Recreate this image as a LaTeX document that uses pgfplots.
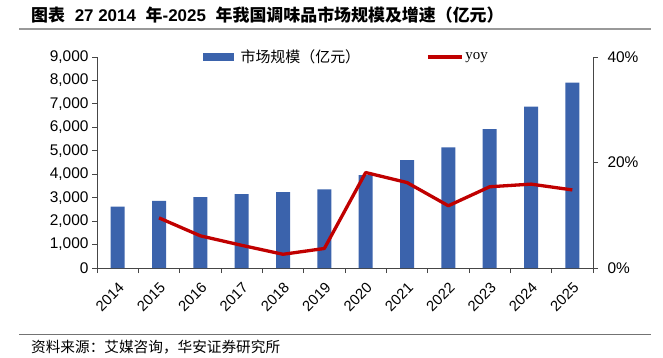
\documentclass[border=0pt]{standalone}
\usepackage{fontspec}
\usepackage{pgfplots}
\pgfplotsset{compat=1.18}
\setmainfont{Liberation Sans}
\newfontfamily\cjk{Noto Sans CJK SC}
\newfontfamily\serif{Liberation Serif}
\definecolor{barblue}{RGB}{59,99,172}
\definecolor{linered}{RGB}{192,0,0}
\definecolor{axgray}{RGB}{70,70,70}

\pgfplotstableread{
x year size
0 2014 2615
1 2015 2858
2 2016 3028
3 2017 3156
4 2018 3241
5 2019 3356
6 2020 3966
7 2021 4606
8 2022 5147
9 2023 5928
10 2024 6880
11 2025 7903
}\sizetable

\pgfplotstableread{
x yoy
1 9.5
2 6.1
3 4.3
4 2.6
5 3.7
6 18.1
7 16.2
8 11.8
9 15.4
10 15.9
11 14.8
}\yoytable

\begin{document}
\begin{tikzpicture}[x=1bp,y=1bp]
\path[use as bounding box] (0,0) rectangle (663,357);
\node[anchor=west, inner sep=0] at (31,342) {\bfseries\fontsize{17}{18}\selectfont{\cjk\bfseries 图表}\hspace{5bp} 27 2014\hspace{5bp} {\cjk\bfseries 年}-2025\hspace{5bp} {\cjk\bfseries 年我国调味品市场规模及增速（亿元）}};
\draw[color=black!40, line width=1.6bp] (19,328) -- (651,328);
\draw[color=black!55, line width=1bp] (19,23) -- (651,23);
\node[anchor=west, inner sep=0] at (31,10) {\cjk\fontsize{14.7}{17}\selectfont 资料来源：艾媒咨询，华安证券研究所};

\begin{axis}[
  at={(97bp,89bp)}, anchor=south west, scale only axis,
  width=496bp, height=211bp,
  xmin=-0.5, xmax=11.5, ymin=0, ymax=9000,
  axis x line*=bottom, axis y line*=left,
  axis line style={axgray, line width=0.8bp},
  every tick/.style={axgray, line width=0.8bp},
  tick align=outside,
  major tick length=5bp, minor tick length=5bp,
  xtick={0,...,11},
  xticklabels={2014,2015,2016,2017,2018,2019,2020,2021,2022,2023,2024,2025},
  major x tick style={draw=none},
  minor xtick={-0.5,0.5,...,11.5},
  xticklabel shift=7bp,
  xticklabel style={rotate=45, anchor=north east, inner sep=1bp, font=\fontsize{14.8}{16}\selectfont},
  ytick={0,1000,...,9000},
  /pgf/number format/assume math mode=true,
  /pgf/number format/1000 sep={,},
  yticklabel style={font=\fontsize{15.5}{17}\selectfont},
  ybar, bar width=14bp,
]
\addplot[fill=barblue, draw=none] table[x=x, y=size] {\sizetable};
\end{axis}

\begin{axis}[
  at={(97bp,89bp)}, anchor=south west, scale only axis,
  width=496bp, height=211bp,
  xmin=-0.5, xmax=11.5, ymin=0, ymax=40,
  axis x line=none, axis y line*=right,
  axis line style={axgray, line width=0.8bp},
  every tick/.style={axgray, line width=0.8bp},
  tick align=outside, major tick length=5bp,
  ytick={0,20,40},
  /pgf/number format/assume math mode=true,
  yticklabel={\pgfmathprintnumber{\tick}\%},
  yticklabel style={font=\fontsize{15.5}{17}\selectfont, xshift=6bp},
  legend columns=2,
  legend style={at={(0.2137,1)}, anchor=west, draw=none, fill=none,
    inner sep=0pt, font=\fontsize{15}{17}\selectfont,
    /tikz/every even column/.append style={column sep=64bp}},
]
\addlegendimage{legend image code/.code={\fill[barblue] (0bp,-3.5bp) rectangle (30bp,3.5bp);}}
\addlegendentry{\hspace{5bp}\cjk 市场规模（亿元）}
\addplot[linered, line width=3.3bp, no markers, line join=round,
  legend image code/.code={\draw[linered, line width=3.3bp] (0bp,0bp) -- (34bp,0bp);}]
  table[x=x, y=yoy] {\yoytable};
\addlegendentry{\serif yoy}
\end{axis}
\end{tikzpicture}
\end{document}
